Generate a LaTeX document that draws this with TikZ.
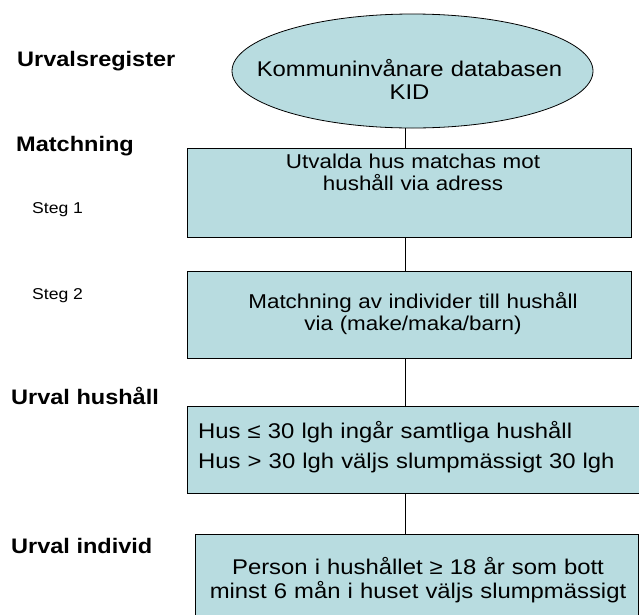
\documentclass[tikz,border=0pt]{standalone}
\usepackage{fontspec}
\setmainfont{Liberation Sans}[FakeStretch=1.12]
\usetikzlibrary{shapes.geometric}
\definecolor{boxfill}{RGB}{184,220,224}
\begin{document}
\begin{tikzpicture}[x=1pt,y=-1pt,
  shapebox/.style={draw=black, line width=0.8pt, fill=boxfill, inner sep=0pt, rectangle},
  ovalbox/.style={draw=black, line width=0.8pt, fill=boxfill, inner sep=0pt, ellipse},
  boxtext/.style={anchor=base, inner sep=0pt, text width=440pt, align=center},
  bigfont/.style={font=\fontsize{21.3}{23}\selectfont},
  midfont/.style={font=\fontsize{20}{22}\selectfont},
  headlabel/.style={anchor=base west, inner sep=0pt, font=\fontsize{21}{24}\selectfont\bfseries},
  steplabel/.style={anchor=base west, inner sep=0pt, font=\fontsize{15.7}{18}\selectfont},
  connector/.style={draw=black, line width=0.8pt}
]
\useasboundingbox (0,0) rectangle (639,614);
\clip (0,0) rectangle (639,614);
\coordinate (lx) at (405,0);

% shapes
\node[ovalbox, minimum width=361pt, minimum height=114pt] (db) at (412.5,71) {};
\node[shapebox, minimum width=444pt, minimum height=89pt] (b1) at (409,192.5) {};
\node[shapebox, minimum width=444pt, minimum height=87pt] (b2) at (409,314.5) {};
\node[shapebox, minimum width=458pt, minimum height=87pt] (b3) at (416,449.5) {};
\node[shapebox, minimum width=443pt, minimum height=92pt] (b4) at (416.5,580) {};

% texts in shapes
\node[boxtext, bigfont] (dbt) at (409.5,76) {Kommuninvånare databasen\\KID};
\node[boxtext, midfont] (b1t) at (413,168) {Utvalda hus matchas mot\\hushåll via adress};
\node[boxtext, midfont] (b2t) at (413,308) {Matchning av individer till hushåll\\via (make/maka/barn)};
\node[anchor=base west, inner sep=0pt, text width=440pt, align=left, font=\fontsize{21.3}{30}\selectfont] (b3t) at (198,438) {Hus ≤ 30 lgh ingår samtliga hushåll\\Hus > 30 lgh väljs slumpmässigt 30 lgh};
\node[boxtext, font=\fontsize{21.3}{24}\selectfont] (b4t) at (418,574) {Person i hushållet ≥ 18 år som bott\\minst 6 mån i huset väljs slumpmässigt};

% connectors
\draw[connector] (db.south -| lx) -- (b1.north -| lx);
\draw[connector] (b1.south -| lx) -- (b2.north -| lx);
\draw[connector] (b2.south -| lx) -- (b3.north -| lx);
\draw[connector] (b3.south -| lx) -- (b4.north -| lx);

% side labels
\node[headlabel] (l1) at (17,66) {Urvalsregister};
\node[headlabel] (l2) at (16,151) {Matchning};
\node[steplabel] (s1) at (32,213) {Steg 1};
\node[steplabel] (s2) at (32,299) {Steg 2};
\node[headlabel] (l3) at (11,404) {Urval hushåll};
\node[headlabel] (l4) at (11,553) {Urval individ};
\end{tikzpicture}
\end{document}
